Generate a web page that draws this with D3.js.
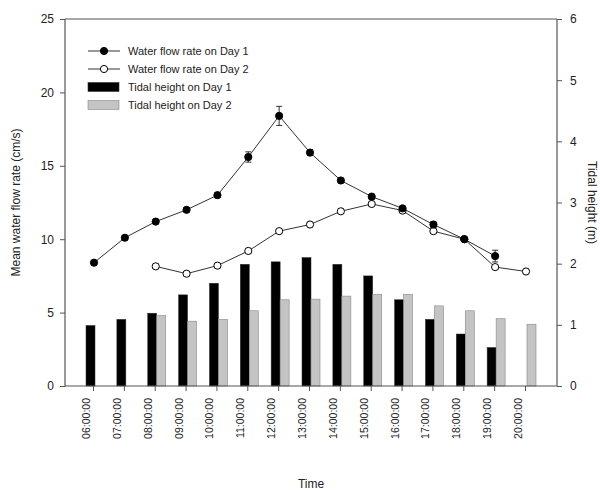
<!DOCTYPE html>
<html><head><meta charset="utf-8">
<script src="https://cdn.jsdelivr.net/npm/d3@7"></script>
<style>body{margin:0;background:#fff}svg{display:block}text{font-family:"Liberation Sans",Arial,sans-serif}</style>
</head><body><svg id="c" width="600" height="491"></svg>
<script>
const times = ["06:00:00","07:00:00","08:00:00","09:00:00","10:00:00","11:00:00","12:00:00","13:00:00","14:00:00","15:00:00","16:00:00","17:00:00","18:00:00","19:00:00","20:00:00"];
const flowDay1Times = times.slice(0,14);
const flowDay1 = [8.4,10.1,11.2,12.0,13.0,15.6,18.4,15.9,14.0,12.9,12.1,11.0,10.0,8.85];
const flowDay1Err = [0.15,0.15,0.15,0.15,0.15,0.35,0.65,0.2,0.15,0.15,0.15,0.2,0.15,0.4];
const flowDay2Times = times.slice(2);
const flowDay2 = [8.15,7.65,8.2,9.2,10.55,11.0,11.9,12.4,11.95,10.55,10.0,8.1,7.8];
const flowDay2Err = [0.15,0.15,0.15,0.15,0.15,0.15,0.15,0.15,0.15,0.15,0.15,0.15,0.15];
const tideDay1Times = times.slice(0,14);
const tideDay1 = [0.99,1.09,1.19,1.49,1.68,1.99,2.03,2.10,1.99,1.80,1.41,1.09,0.85,0.63];
const tideDay2Times = times.slice(2);
const tideDay2 = [1.15,1.06,1.09,1.23,1.41,1.42,1.47,1.50,1.50,1.31,1.23,1.10,1.01];
const leftTicks = [0,5,10,15,20,25];
const rightTicks = [0,1,2,3,4,5,6];
const legendLabels = ["Water flow rate on Day 1","Water flow rate on Day 2","Tidal height on Day 1","Tidal height on Day 2"];

const svg = d3.select("#c");
const L = 65, R = 557, T = 19, B = 386;
const axisCol = "#555", textCol = "#222";
const x = d3.scalePoint().domain(times).range([93, 525]);
const yL = d3.scaleLinear().domain([0,25]).range([B, T]);
const yR = d3.scaleLinear().domain([0,6]).range([B, T]);
const bw = 9;

// bars
const g = svg.append("g");
g.selectAll(".b1").data(tideDay1).join("rect")
  .attr("x",(d,i)=>x(tideDay1Times[i])-7).attr("width",bw)
  .attr("y",d=>yR(d)).attr("height",d=>B-yR(d))
  .attr("fill","#000").attr("stroke","#333").attr("stroke-width",0.5);
g.selectAll(".b2").data(tideDay2).join("rect")
  .attr("x",(d,i)=>x(tideDay2Times[i])+2).attr("width",bw)
  .attr("y",d=>yR(d)).attr("height",d=>B-yR(d))
  .attr("fill","#c4c4c4").attr("stroke","#888").attr("stroke-width",0.6);

// axes
const ax = svg.append("g").attr("transform",`translate(0,${B})`).call(d3.axisBottom(x).tickSize(5).tickPadding(8));
ax.select(".domain").remove();
ax.selectAll("line").attr("stroke",axisCol);
ax.selectAll("text").attr("transform","rotate(-90)").attr("text-anchor","end").attr("dx","-2").attr("dy","-0.33em").attr("x",-10).attr("y",0)
  .style("font-size","10.5px").attr("fill",textCol).attr("font-family","Liberation Sans, Arial, sans-serif");

const al = svg.append("g").attr("transform",`translate(${L},0)`).call(d3.axisLeft(yL).tickValues(leftTicks).tickSize(5).tickPadding(6));
const ar = svg.append("g").attr("transform",`translate(${R},0)`).call(d3.axisRight(yR).tickValues(rightTicks).tickFormat(d3.format("d")).tickSize(5).tickPadding(8));
[al,ar].forEach(a=>{
  a.select(".domain").attr("stroke",axisCol).attr("stroke-width",1.2).attr("d",`M0,${T}V${B}`);
  a.selectAll("line").attr("stroke",axisCol);
  a.selectAll("text").style("font-size","12px").attr("fill",textCol).attr("font-family","Liberation Sans, Arial, sans-serif");
});
svg.append("line").attr("x1",L).attr("x2",R).attr("y1",T).attr("y2",T).attr("stroke",axisCol).attr("stroke-width",1.2);
svg.append("line").attr("x1",L).attr("x2",R).attr("y1",B).attr("y2",B).attr("stroke",axisCol).attr("stroke-width",1.2);

// lines
const px = t => x(t)+1;
function series(ts, vals, errs, filled){
  const pts = vals.map((v,i)=>({t:ts[i],v,e:errs[i]}));
  svg.append("path").datum(pts).attr("fill","none").attr("stroke","#333").attr("stroke-width",1)
    .attr("d", d3.line().x(d=>px(d.t)).y(d=>yL(d.v)));
  const eg = svg.append("g").attr("stroke","#333").attr("stroke-width",1);
  eg.selectAll("path").data(pts).join("path")
    .attr("d",d=>`M${px(d.t)},${yL(d.v+d.e)}V${yL(d.v-d.e)}M${px(d.t)-3},${yL(d.v+d.e)}H${px(d.t)+3}M${px(d.t)-3},${yL(d.v-d.e)}H${px(d.t)+3}`);
  svg.append("g").selectAll("circle").data(pts).join("circle")
    .attr("cx",d=>px(d.t)).attr("cy",d=>yL(d.v)).attr("r",3.6)
    .attr("fill",filled?"#000":"#fff").attr("stroke","#000").attr("stroke-width",1);
}
series(flowDay2Times, flowDay2, flowDay2Err, false);
series(flowDay1Times, flowDay1, flowDay1Err, true);

// legend
const lg = svg.append("g");
legendLabels.forEach((lab,i)=>{
  const yy = 51 + i*18;
  if(i<2){
    lg.append("line").attr("x1",88).attr("x2",120).attr("y1",yy).attr("y2",yy).attr("stroke","#333");
    lg.append("circle").attr("cx",104).attr("cy",yy).attr("r",3.6).attr("fill",i===0?"#000":"#fff").attr("stroke","#000");
  } else {
    lg.append("rect").attr("x",88).attr("y",yy-4.5).attr("width",31).attr("height",9)
      .attr("fill",i===2?"#000":"#c4c4c4").attr("stroke",i===2?"#333":"#888").attr("stroke-width",0.6);
  }
  lg.append("text").attr("x",128).attr("y",yy+4).text(lab).style("font-size","11px").attr("fill",textCol);
});

// axis titles
svg.append("text").attr("transform",`translate(20,${(T+B)/2}) rotate(-90)`).attr("text-anchor","middle")
  .text("Mean water flow rate (cm/s)").style("font-size","12px").attr("fill",textCol);
svg.append("text").attr("transform",`translate(588,${(T+B)/2}) rotate(90)`).attr("text-anchor","middle")
  .text("Tidal height (m)").style("font-size","12px").attr("fill",textCol);
svg.append("text").attr("x",311).attr("y",488).attr("text-anchor","middle").text("Time").style("font-size","12px").attr("fill",textCol);
</script></body></html>
